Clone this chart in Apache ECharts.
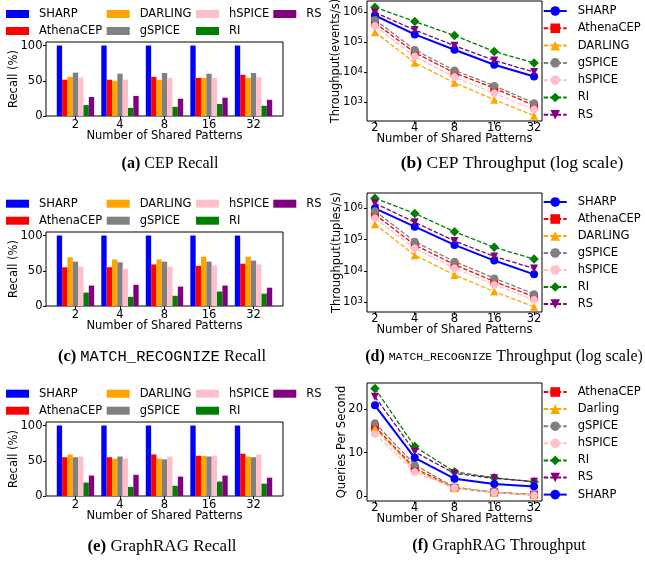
<!DOCTYPE html>
<html><head><meta charset="utf-8">
<script src="https://cdn.jsdelivr.net/npm/echarts@6/dist/echarts.min.js"></script>
<style>html,body{margin:0;padding:0;background:#fff}#c{width:645px;height:561px}</style>
</head><body><div id="c"></div>
<script>
// ---------- data ----------
const categories = ['2', '4', '8', '16', '32'];
const barMethods = ['SHARP', 'AthenaCEP', 'DARLING', 'gSPICE', 'hSPICE', 'RI', 'RS'];
const barColors = ['#0000ff', '#ff0000', '#ffa500', '#808080', '#ffc0cb', '#008000', '#800080'];

// recall (%) rows follow barMethods order
const cepRecall = [
  [100, 100, 100, 100, 100],
  [51.5, 51.5, 55.5, 54, 58.5],
  [55.5, 50, 51, 54, 54],
  [61.5, 60, 61, 60, 61],
  [54.5, 51.5, 54, 54, 55],
  [15.5, 11.5, 13, 17, 14.5],
  [27, 28.5, 24.5, 26, 23]
];
const mrRecall = [
  [100, 100, 100, 100, 100],
  [55, 55, 59, 57, 60],
  [69, 66, 66, 70, 70],
  [63, 62, 63, 63, 64.5],
  [56, 53, 56, 57.5, 59],
  [19, 13, 14.5, 20.5, 17.5],
  [29, 30, 27.5, 29, 26]
];
const ragRecall = [
  [100, 100, 100, 100, 100],
  [55, 55, 59, 57, 60],
  [59, 53, 53, 57, 56],
  [55, 56, 52, 56, 55],
  [56, 53, 56, 57.5, 59],
  [19, 13, 14.5, 20.5, 17.5],
  [29, 30, 27.5, 29, 26]
];

// throughput, CEP (events/s)
const cepMethods = ['SHARP', 'AthenaCEP', 'DARLING', 'gSPICE', 'hSPICE', 'RI', 'RS'];
const cepSHARP = [7.9e5, 1.85e5, 5.7e4, 1.8e4, 7.3e3];
const cepAthena = [4.5e5, 4.6e4, 9.6e3, 3.0e3, 7.8e2];
const cepDARLING = [2.2e5, 2.1e4, 4.5e3, 1.23e3, 3.6e2];
const cepGSPICE = [5.7e5, 5.7e4, 1.17e4, 3.6e3, 9.5e2];
const cepHSPICE = [3.5e5, 3.4e4, 7.0e3, 2.0e3, 5.8e2];
const cepRI = [1.5e6, 5.0e5, 1.7e5, 5.0e4, 2.06e4];
const cepRS = [1.0e6, 2.6e5, 7.8e4, 2.5e4, 1.03e4];

// throughput, MATCH_RECOGNIZE (tuples/s)
const mrSHARP = [1.0e6, 2.6e5, 6.8e4, 2.15e4, 7.8e3];
const mrAthena = [6.4e5, 6.8e4, 1.6e4, 4.6e3, 1.5e3];
const mrDARLING = [3.1e5, 3.2e4, 7.5e3, 2.2e3, 7.2e2];
const mrGSPICE = [8.2e5, 8.7e4, 2.0e4, 5.9e3, 1.85e3];
const mrHSPICE = [4.8e5, 5.3e4, 1.22e4, 3.6e3, 1.2e3];
const mrRI = [2.1e6, 6.9e5, 1.8e5, 5.7e4, 2.4e4];
const mrRS = [1.45e6, 3.6e5, 9.1e4, 2.9e4, 1.2e4];

// throughput, GraphRAG (queries/s)
const ragMethods = ['AthenaCEP', 'Darling', 'gSPICE', 'hSPICE', 'RI', 'RS', 'SHARP'];
const ragAthena = [16.0, 6.4, 1.9, 0.85, 0.3];
const ragDarling = [15.6, 6.0, 1.8, 0.8, 0.2];
const ragGSPICE = [16.8, 7.2, 2.0, 0.9, 0.3];
const ragHSPICE = [14.3, 5.5, 1.9, 0.8, 0.2];
const ragRI = [24.8, 11.4, 5.6, 4.2, 3.3];
const ragRS = [22.9, 10.2, 5.2, 4.1, 3.3];
const ragSHARP = [20.9, 8.8, 4.0, 2.8, 2.2];

const logTicks = [1e3, 1e4, 1e5, 1e6];
const recallTicks = [0, 50, 100];
const qpsTicks = [0, 10, 20];

// ---------- styles ----------
const FONT = 'DejaVu Sans';
const FS = 11.5;
const lineStyleOf = {
  SHARP: { color: '#0000ff', symbol: 'circle', size: 8, rot: 0, solid: true },
  AthenaCEP: { color: '#ff0000', symbol: 'rect', size: 8, rot: 0 },
  DARLING: { color: '#ffa500', symbol: 'triangle', size: 8, rot: 0 },
  Darling: { color: '#ffa500', symbol: 'triangle', size: 8, rot: 0 },
  gSPICE: { color: '#808080', symbol: 'circle', size: 7.5, rot: 0 },
  hSPICE: { color: '#ffc0cb', symbol: 'circle', size: 7.5, rot: 0 },
  RI: { color: '#008000', symbol: 'diamond', size: 9.5, rot: 0 },
  RS: { color: '#800080', symbol: 'triangle', size: 8, rot: 180 }
};
const txt = { fontFamily: FONT, fontSize: FS, color: '#000' };

const grids = [
  { left: 46, top: 42, width: 237, height: 74 },   // a
  { left: 367, top: 1, width: 175, height: 120 },  // b
  { left: 46, top: 232, width: 237, height: 74 },  // c
  { left: 367, top: 193, width: 175, height: 119 },// d
  { left: 46, top: 422, width: 237, height: 74 },  // e
  { left: 367, top: 383, width: 175, height: 118 } // f
].map(g => Object.assign({ show: true, borderColor: '#000', borderWidth: 1, containLabel: false, outerBoundsMode: 'none' }, g));

const xAxes = [], yAxes = [], series = [], legends = [];

function xAxisDef(gi, isBar) {
  return {
    gridIndex: gi, type: 'value',
    min: isBar ? -0.662 : -0.2, max: isBar ? 4.662 : 4.2,
    splitLine: { show: false },
    axisLine: { show: false, onZero: false },
    axisTick: { show: true, length: 3, customValues: [0, 1, 2, 3, 4], lineStyle: { color: '#000', width: 1 } },
    axisLabel: Object.assign({ customValues: [0, 1, 2, 3, 4], formatter: v => categories[Math.round(v)], margin: isBar ? 3 : 1.5 }, txt),
    name: 'Number of Shared Patterns', nameLocation: 'middle', nameGap: isBar ? 14 : 12.5,
    nameMoveOverlap: false,
    nameTextStyle: txt
  };
}

function barPanel(gi, tag, rows, legendRowCenter) {
  xAxes.push(xAxisDef(gi, true));
  yAxes.push({
    gridIndex: gi, type: 'value', min: 0, max: 105,
    splitLine: { show: false },
    axisLine: { show: false, onZero: false },
    axisTick: { show: true, length: 3, customValues: recallTicks, lineStyle: { color: '#000' } },
    axisLabel: Object.assign({ customValues: recallTicks, margin: 3.5 }, txt),
    name: 'Recall (%)', nameLocation: 'middle', nameGap: 26, nameMoveOverlap: false, nameTextStyle: txt
  });
  barMethods.forEach((m, k) => {
    series.push({
      type: 'bar', name: tag + ':' + m, xAxisIndex: gi, yAxisIndex: gi,
      barWidth: 5.34, barGap: '0%',
      itemStyle: { color: barColors[k] },
      data: categories.map((c, i) => [i, rows[k][i]])
    });
  });
  const cols = [['SHARP', 'AthenaCEP'], ['DARLING', 'gSPICE'], ['hSPICE', 'RI'], ['RS']];
  const lefts = [6, 106.7, 196, 273.3];
  cols.forEach((names, ci) => {
    legends.push({
      orient: 'vertical', left: lefts[ci], top: legendRowCenter - 5, padding: 0,
      itemWidth: 23, itemHeight: 8, itemGap: 3, icon: 'rect', selectedMode: false,
      data: names.map(n => tag + ':' + n),
      formatter: n => n.split(':')[1],
      textStyle: Object.assign({ lineHeight: 14, padding: [0, 0, 0, 5] }, txt)
    });
  });
}

function linePanel(gi, tag, methods, arrays, yDef, firstLegendCenter, step) {
  xAxes.push(xAxisDef(gi, false));
  yAxes.push(Object.assign({
    gridIndex: gi, splitLine: { show: false },
    axisLine: { show: false, onZero: false },
    nameLocation: 'middle', nameMoveOverlap: false, nameTextStyle: txt
  }, yDef));
  methods.forEach((m, k) => {
    const st = lineStyleOf[m];
    series.push({
      type: 'line', name: tag + ':' + m, xAxisIndex: gi, yAxisIndex: gi,
      symbol: st.symbol, symbolSize: st.size, symbolRotate: st.rot,
      showSymbol: true,
      itemStyle: { color: st.color, borderWidth: 0 },
      lineStyle: { color: st.color, width: st.solid ? 2 : 1.3, type: st.solid ? 'solid' : [4.5, 2] },
      data: categories.map((c, i) => [i, arrays[k][i]])
    });
  });
  legends.push({
    orient: 'vertical', left: 542.7, top: firstLegendCenter - 5, padding: 0,
    itemWidth: 23, itemHeight: 12, itemGap: step - 14, selectedMode: false,
    data: methods.map(n => tag + ':' + n),
    formatter: n => n.split(':')[1],
    textStyle: Object.assign({ lineHeight: 14, padding: [0, 0, 0, 6] }, txt)
  });
}

function logY(min, max, name, gap) {
  return {
    type: 'log', logBase: 10, min: min, max: max,
    axisTick: { show: true, length: 3, customValues: logTicks, lineStyle: { color: '#000' } },
    axisLabel: Object.assign({
      customValues: logTicks, margin: 4,
      formatter: v => '10{e|' + Math.round(Math.log10(v)) + '}',
      rich: { e: { fontFamily: FONT, fontSize: 8.5, color: '#000', verticalAlign: 'top', lineHeight: 9 } }
    }, txt),
    name: name, nameGap: gap
  };
}

barPanel(0, 'a', cepRecall, 12);
linePanel(1, 'b', cepMethods, [cepSHARP, cepAthena, cepDARLING, cepGSPICE, cepHSPICE, cepRI, cepRS],
  logY(239, 2.41e6, 'Throughput(events/s)', 25), 9, 17.3);
barPanel(2, 'c', mrRecall, 201.7);
linePanel(3, 'd', cepMethods, [mrSHARP, mrAthena, mrDARLING, mrGSPICE, mrHSPICE, mrRI, mrRS],
  logY(490, 3.09e6, 'Throughput(tuples/s)', 24), 200, 17);
barPanel(4, 'e', ragRecall, 391.7);
linePanel(5, 'f', ragMethods, [ragAthena, ragDarling, ragGSPICE, ragHSPICE, ragRI, ragRS, ragSHARP],
  {
    type: 'value', min: -1.14, max: 26.04,
    axisTick: { show: true, length: 3, customValues: qpsTicks, lineStyle: { color: '#000' } },
    axisLabel: Object.assign({ customValues: qpsTicks, margin: 4 }, txt),
    name: 'Queries Per Second', nameGap: 18.5
  }, 390, 17.1);

// ---------- captions ----------
const SERIF = 'Liberation Serif', MONO = 'Liberation Mono';
function capRich(size, monoSize) {
  return {
    b: { fontFamily: SERIF, fontWeight: 'bold', fontSize: size, fill: '#000' },
    r: { fontFamily: SERIF, fontSize: size, fill: '#000' },
    m: { fontFamily: MONO, fontSize: monoSize, fill: '#000' }
  };
}
const captions = [
  { x: 170, y: 164, size: 16, mono: 15, text: '{b|(a)}{r| CEP Recall}' },
  { x: 512, y: 163.5, size: 17.5, mono: 15, text: '{b|(b)}{r| CEP Throughput (log scale)}' },
  { x: 162, y: 356.7, size: 16.5, mono: 15.5, text: '{b|(c)}{r| }{m|MATCH_RECOGNIZE}{r| Recall}' },
  { x: 504, y: 356.7, size: 16, mono: 11.5, text: '{b|(d)}{r| }{m|MATCH_RECOGNIZE}{r| Throughput (log scale)}' },
  { x: 162, y: 546.7, size: 17, mono: 15, text: '{b|(e)}{r| GraphRAG Recall}' },
  { x: 499, y: 546, size: 16, mono: 15, text: '{b|(f)}{r| GraphRAG Throughput}' }
];

const chart = echarts.init(document.getElementById('c'), null, { renderer: 'canvas' });
chart.setOption({
  animation: false,
  backgroundColor: '#fff',
  grid: grids,
  xAxis: xAxes,
  yAxis: yAxes,
  legend: legends,
  series: series,
  graphic: captions.map(c => ({
    type: 'text', x: c.x, y: c.y,
    style: { text: c.text, align: 'center', verticalAlign: 'middle', rich: capRich(c.size, c.mono), fill: '#000' }
  }))
});
</script></body></html>
